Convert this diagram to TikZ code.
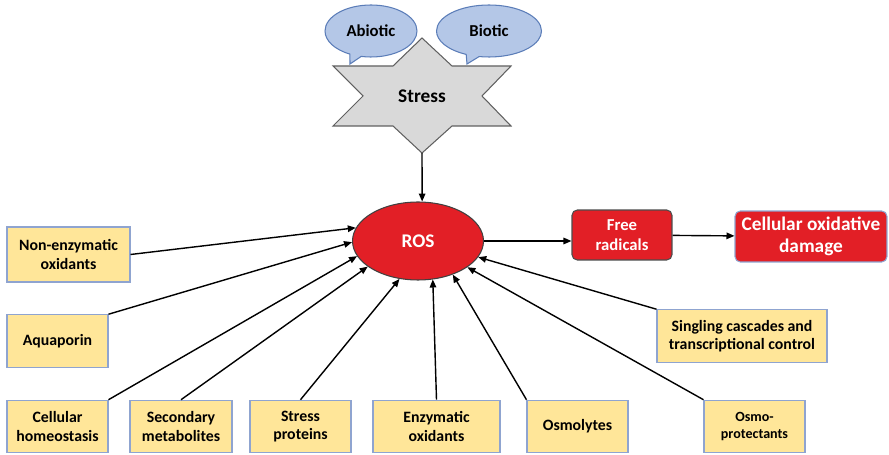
\documentclass[tikz,border=0pt]{standalone}
\usepackage{fontspec}
\setmainfont{Carlito}
\usepackage{xcolor}
\usetikzlibrary{arrows.meta,shapes.geometric,shapes.callouts}
\definecolor{factorfill}{HTML}{FFE699}
\definecolor{factorline}{HTML}{8FA4D0}
\definecolor{rosred}{HTML}{E21F26}
\definecolor{bubblefill}{HTML}{B4C7E7}
\definecolor{bubbleline}{HTML}{5B7DB8}
\definecolor{stargray}{HTML}{D9D9D9}
\tikzset{
  factor/.style={draw=factorline,fill=factorfill,line width=0.6pt,align=center,font=\bfseries\fontsize{9}{10.5}\selectfont,minimum width=2.02cm,minimum height=1.05cm,inner sep=2pt},
  redbox/.style={draw=black!70,fill=rosred,rounded corners=3pt,text=white,align=center,line width=0.6pt,inner sep=2pt},
  bubble/.style={ellipse callout,draw=bubbleline,fill=bubblefill,line width=0.6pt,font=\bfseries\fontsize{9.5}{11}\selectfont,minimum height=1.04cm},
  arr/.style={-{Triangle[length=1.6mm,width=1.3mm]},line width=0.8pt},
}
\begin{document}
\begin{tikzpicture}[x=0.02cm,y=-0.02cm]
\useasboundingbox (0,0) rectangle (889,455);
% stress sources
\node[bubble,minimum width=1.84cm,callout absolute pointer={(350,64)}] (abiotic) at (371,31) {Abiotic};
\node[bubble,minimum width=2.1cm,callout absolute pointer={(467,64)}] (biotic) at (489,31) {Biotic};
\draw[fill=stargray,draw=gray!75!black,line width=0.6pt] (422,38) -- (452,66) -- (511,66) -- (482,96) -- (511,126) -- (452,126) -- (422,153) -- (393,126) -- (333,126) -- (363,96) -- (333,66) -- (393,66) -- cycle;
\node[font=\bfseries\fontsize{11}{13}\selectfont] (stress) at (422,96) {Stress};
\coordinate (stressbot) at (422,153);
% ROS and damage
\node[ellipse,draw=black!75,fill=rosred,text=white,line width=0.6pt,minimum width=2.62cm,minimum height=1.56cm,font=\bfseries\fontsize{11}{13}\selectfont] (ros) at (418,241) {ROS};
\node[redbox,minimum width=2cm,minimum height=1cm,font=\bfseries\fontsize{9.5}{11.5}\selectfont] (freerad) at (622,235) {Free\\radicals};
\node[redbox,draw=factorline,minimum width=3.04cm,minimum height=1.02cm,font=\bfseries\fontsize{11}{12.5}\selectfont] (damage) at (811,236.5) {Cellular oxidative\\damage};
% factors
\node[factor,minimum width=2.46cm,minimum height=1.1cm] (nonenz) at (68.5,254.5) {Non-enzymatic\\oxidants};
\node[factor] (aqua) at (57.5,341) {Aquaporin};
\node[factor] (cellhom) at (57.5,426.5) {Cellular\\homeostasis};
\node[factor,minimum width=2.04cm] (secmet) at (181,426.5) {Secondary\\metabolites};
\node[factor] (strprot) at (300.5,426.5) {Stress\\proteins};
\node[factor,minimum width=2.54cm] (enzox) at (436.5,426.5) {Enzymatic\\oxidants};
\node[factor] (osmol) at (577.5,426.5) {Osmolytes};
\node[factor,font=\bfseries\fontsize{8}{10}\selectfont] (osmoprot) at (754.5,426.5) {Osmo-\\protectants};
\node[factor,minimum width=3.4cm] (singling) at (742,336) {Singling cascades and\\transcriptional control};
% connectors
\draw[arr] (stressbot) -- (ros.84);
\draw[arr] (ros.east) -- (ros.east -| freerad.west);
\draw[arr] (freerad) -- (damage);
\foreach \s/\t in {nonenz.east/168,aqua.north east/181,cellhom.north east/194,secmet.north/207,strprot.north/244,enzox.north/291,osmol.north west/316,osmoprot.north west/332,singling.north west/345}
  \draw[arr] (\s) -- (ros.\t);
\end{tikzpicture}
\end{document}
